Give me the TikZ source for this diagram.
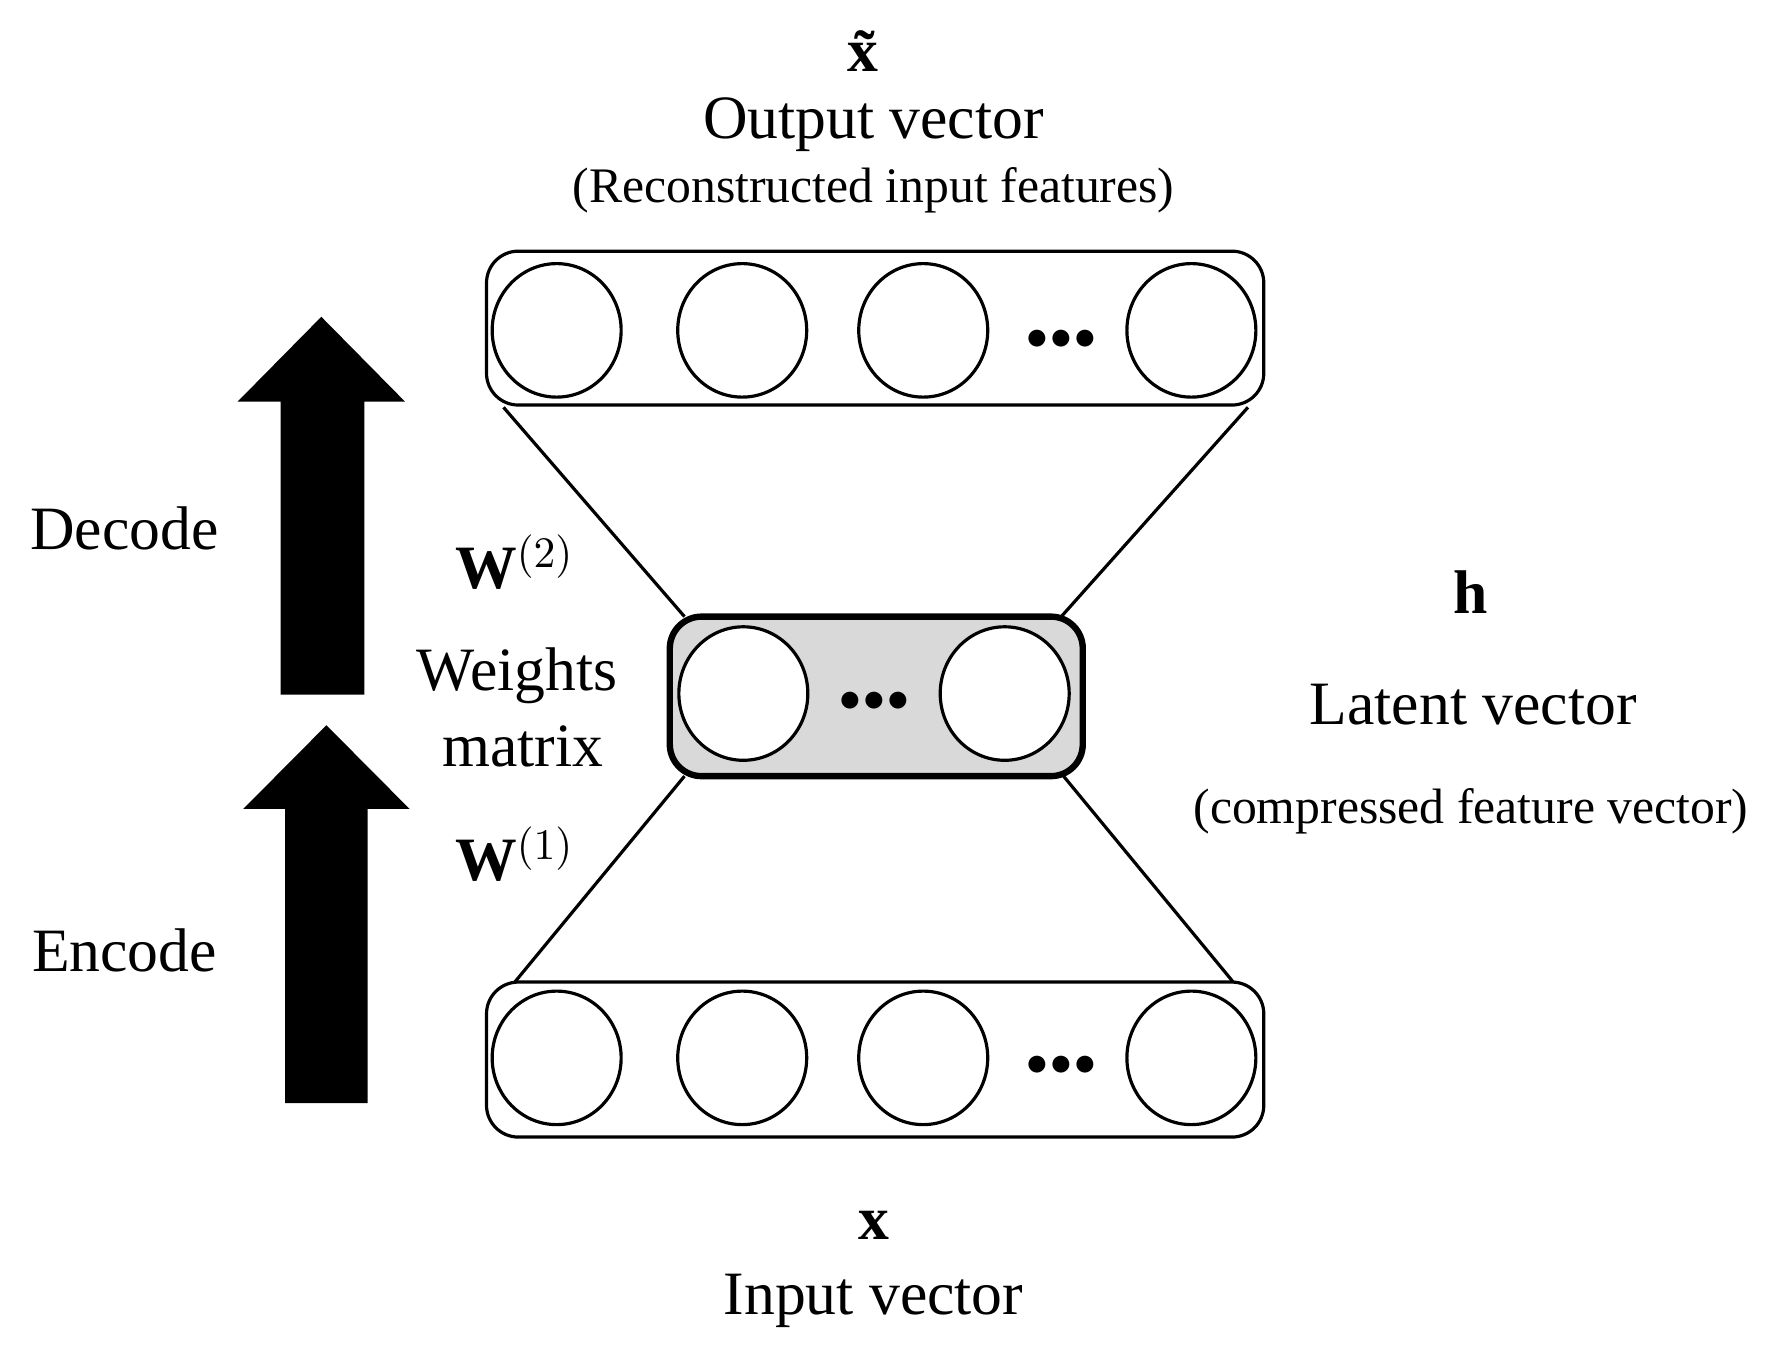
\documentclass[tikz,border=0pt]{standalone}
\usetikzlibrary{shapes.geometric}
\usepackage{fontspec}
\setmainfont{Liberation Serif}
\begin{document}
\begin{tikzpicture}[x=0.1mm,y=-0.1mm,
  box/.style={draw,rounded corners=8pt,line width=0.8pt},
  neuron/.style={draw,ellipse,minimum width=11.4mm,minimum height=11.8mm,line width=0.8pt,fill=white},
  big/.style={font=\fontsize{15.5}{18}\selectfont},
  small/.style={font=\fontsize{12.5}{14}\selectfont},
  dots/.style={font=\fontsize{11}{11}\selectfont},
  fat/.style={fill=black}]
\useasboundingbox (0,0) rectangle (1560,1192);
% top layer
\node[box,minimum width=68.7mm,minimum height=13.6mm] (top) at (773.5,290) {};
\node[neuron] (t1) at (492,292) {};
\node[neuron] (t2) at (656,292) {};
\node[neuron] (t3) at (816,292) {};
\node[neuron] (t4) at (1053,292) {};
\node[dots] (td) at (938,300) {$\bullet\!\bullet\!\bullet$};
% bottom layer
\node[box,minimum width=68.7mm,minimum height=13.7mm] (bot) at (773.5,936.5) {};
\node[neuron] (b1) at (492,935) {};
\node[neuron] (b2) at (656,935) {};
\node[neuron] (b3) at (816,935) {};
\node[neuron] (b4) at (1053,935) {};
\node[dots] (bd) at (938,942) {$\bullet\!\bullet\!\bullet$};
% middle
\node[draw,rounded corners=8pt,line width=1.6pt,fill=black!15,minimum width=36.5mm,minimum height=14.1mm] (mid) at (774.5,615.5) {};
\node[neuron] (m1) at (657,613) {};
\node[neuron] (m2) at (888,613) {};
\node[dots] (md) at (773,620) {$\bullet\!\bullet\!\bullet$};
% connectors
\coordinate (tl) at (445,360); \coordinate (tr) at (1103,360);
\coordinate (ml) at (605,545); \coordinate (mr) at (938,545);
\coordinate (mbl) at (605,686); \coordinate (mbr) at (940,686);
\coordinate (bl) at (455,868); \coordinate (br) at (1090,868);
\draw[line width=0.8pt] (tl) -- (ml) (tr) -- (mr) (mbl) -- (bl) (mbr) -- (br);
% arrows
\fill[fat] (248,614) -- (248,355) -- (210,355) -- (284,280) -- (358,355) -- (322,355) -- (322,614) -- cycle;
\fill[fat] (252,975) -- (252,715) -- (215,715) -- (288.5,641) -- (362,715) -- (325,715) -- (325,975) -- cycle;
% labels
\node[big] (xt) at (772,45) {\textbf{\~{x}}};
\node[big] (ov) at (772,110) {Output vector};
\node[small] (rif) at (772,168) {(Reconstructed input features)};
\node[big] (dec) at (110,467) {Decode};
\node[big] (enc) at (110,840) {Encode};
\node[big] (w2) at (455,497) {\textbf{W}$^{(2)}$};
\node[big] (wt) at (457,597) {Weights};
\node[big] (mx) at (462,660) {matrix};
\node[big] (w1) at (455,755) {\textbf{W}$^{(1)}$};
\node[big] (h) at (1300,523) {\textbf{h}};
\node[big] (lv) at (1302,623) {Latent vector};
\node[small] (cfv) at (1300,717) {(compressed feature vector)};
\node[big] (x) at (772,1083) {\textbf{x}};
\node[big] (iv) at (772,1150) {Input vector};
\end{tikzpicture}
\end{document}
